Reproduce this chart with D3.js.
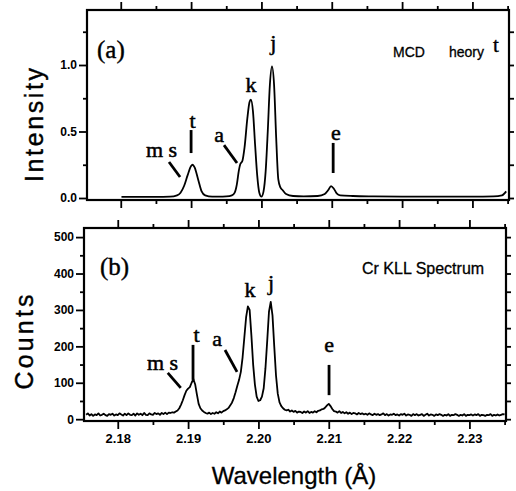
<!DOCTYPE html>
<html lang="en">
<head>
  <meta charset="UTF-8">
  <title>Cr KLL spectrum</title>
  <style>
    html, body {
      margin: 0;
      overflow: hidden;
      width: 100%;
      height: 100%;
      background: #fff;
    }

    svg {
      position: absolute;
      top: 0;
      left: 0;
      background: #fff;
    }

    .tick text {
      font-family: "Liberation Sans", Arial, sans-serif;
      font-weight: bold;
      fill: #000;
    }
  </style>
</head>
<body>
  <svg width="516" height="491"></svg>
</body>
<script src="https://d3js.org/d3.v7.min.js"></script>
<script type="text/javascript">
  // --- data ---
  const xMajorTicks = [2.18, 2.19, 2.20, 2.21, 2.22, 2.23]
  const xMinorTicks = [2.185, 2.195, 2.205, 2.215, 2.225, 2.235]
  const xTickLabels = ['2.18', '2.19', '2.20', '2.21', '2.22', '2.23']

  const intensityTicks = [0, 0.5, 1.0]
  const intensityMinor = [0.25, 0.75, 1.25]
  const intensityRight = [0, 0.25, 0.5, 0.75, 1.0, 1.25]
  const countTicks = [0, 100, 200, 300, 400, 500]
  const countMinor = [50, 150, 250, 350, 450]
  const countRight = [0, 50, 100, 150, 200, 250, 300, 350, 400, 450, 500]

  // (a) MCD theory curve: wavelength (A), intensity
  const theoryWave = [
    2.1801, 2.1850, 2.1870, 2.1880, 2.1885, 2.1890, 2.1895, 2.1900, 2.1902, 2.1905,
    2.1910, 2.1915, 2.1920, 2.1930, 2.1940, 2.1950, 2.1958, 2.1962, 2.1965, 2.1968,
    2.1970, 2.1973, 2.1976, 2.1980, 2.1983, 2.1985, 2.1988, 2.1991, 2.1994, 2.1997,
    2.2000, 2.2003, 2.2006, 2.2009, 2.2012, 2.2015, 2.2018, 2.2021, 2.2024, 2.2027,
    2.2030, 2.2035, 2.2045, 2.2060, 2.2080, 2.2090, 2.2095, 2.2099, 2.2103, 2.2107,
    2.2112, 2.2130, 2.2160, 2.2200, 2.2250, 2.2300, 2.2330, 2.2342, 2.2348
  ]
  const theoryIntensity = [
    0.008, 0.008, 0.010, 0.020, 0.040, 0.090, 0.170, 0.240, 0.250, 0.230,
    0.140, 0.050, 0.020, 0.010, 0.010, 0.012, 0.020, 0.040, 0.100, 0.210,
    0.255, 0.280, 0.380, 0.600, 0.720, 0.740, 0.650, 0.400, 0.170, 0.040,
    0.010, 0.050, 0.200, 0.500, 0.850, 0.990, 0.850, 0.450, 0.140, 0.080,
    0.060, 0.030, 0.015, 0.012, 0.015, 0.030, 0.060, 0.090, 0.070, 0.035,
    0.020, 0.015, 0.012, 0.010, 0.010, 0.010, 0.012, 0.020, 0.050
  ]

  // (b) measured spectrum: sampled every 0.00025 A from 2.1755 A
  const specStart = 2.1755
  const specStep = 0.00025
  const specCounts = [
    12, 16, 10, 14, 9, 13, 11, 16, 10, 12, 15, 11, 9, 14, 12, 15, 10, 13, 11, 16,
    13, 10, 15, 11, 16, 12, 11, 15, 10, 16, 12, 15, 11, 17, 12, 11, 16, 13, 12, 17,
    14, 16, 12, 17, 14, 18, 14, 18, 17, 19, 18, 21, 24, 30, 40, 52, 66, 78, 84, 88,
    100, 110, 96, 68, 42, 30, 24, 20, 17, 15, 18, 14, 17, 15, 19, 16, 21, 18, 22, 24,
    27, 31, 38, 46, 58, 74, 92, 108, 130, 170, 225, 280, 310, 300, 230, 150, 95, 62, 50, 52,
    62, 85, 140, 215, 295, 322, 285, 200, 120, 70, 46, 36, 30, 26, 24, 26, 21, 24, 20, 23,
    18, 21, 20, 17, 21, 18, 22, 17, 20, 18, 22, 19, 23, 24, 27, 28, 32, 38, 42, 36,
    28, 22, 21, 18, 22, 17, 20, 16, 19, 15, 18, 14, 17, 16, 13, 17, 14, 16, 13, 15,
    12, 16, 13, 11, 15, 12, 14, 11, 13, 16, 11, 14, 10, 13, 12, 15, 11, 13, 10, 14,
    12, 15, 10, 13, 12, 9, 14, 11, 14, 10, 12, 14, 9, 12, 15, 10, 13, 12, 9, 13,
    11, 14, 12, 9, 12, 10, 14, 9, 12, 11, 14, 12, 9, 12, 10, 14, 9, 12, 11, 13,
    10, 13, 11, 14, 9, 12, 11, 9, 12, 11, 14, 9, 12, 10, 13, 10, 12, 14, 13
  ]

  // peak labels and pointers, in data units
  const topLabels = [
    { text: 'm s', w: 2.1858, v: 0.308 },
    { text: 't', w: 2.1902, v: 0.526 },
    { text: 'a', w: 2.1940, v: 0.421 },
    { text: 'k', w: 2.1985, v: 0.797 },
    { text: 'j', w: 2.2017, v: 1.113 },
    { text: 'e', w: 2.2106, v: 0.436 }
  ]
  const topPointers = [
    { w1: 2.18686, v1: 0.271, w2: 2.18843, v2: 0.158 },
    { w1: 2.1900, v1: 0.511, w2: 2.1900, v2: 0.338 },
    { w1: 2.19468, v1: 0.398, w2: 2.19653, v2: 0.263 },
    { w1: 2.2102, v1: 0.414, w2: 2.2102, v2: 0.188 }
  ]
  const bottomLabels = [
    { text: 'm s', w: 2.18636, v: 135 },
    { text: 't', w: 2.19119, v: 212 },
    { text: 'a', w: 2.19414, v: 201 },
    { text: 'k', w: 2.19880, v: 335 },
    { text: 'j', w: 2.20179, v: 355 },
    { text: 'e', w: 2.21004, v: 184 }
  ]
  const bottomPointers = [
    { w1: 2.18711, v1: 127, w2: 2.18896, v2: 86 },
    { w1: 2.19070, v1: 204, w2: 2.19070, v2: 108 },
    { w1: 2.19525, v1: 190, w2: 2.19696, v2: 130 },
    { w1: 2.21004, v1: 149, w2: 2.21004, v2: 66 }
  ]

  const svg = d3.select('svg')
  const serif = '"Liberation Serif", "Times New Roman", serif'
  const sans = '"Liberation Sans", Arial, sans-serif'
  const xDomain = [2.1752, 2.2352]

  // --- panel (a) ---
  const xa = d3.scaleLinear().domain(xDomain).range([87, 509])
  const ya = d3.scaleLinear().domain([-0.015, 1.4135]).range([200, 10])

  // --- panel (b) ---
  const xb = d3.scaleLinear().domain(xDomain).range([84, 506])
  const yb = d3.scaleLinear().domain([-5, 525]).range([421, 228])

  const styleAxis = g => {
    g.select('.domain').remove()
    g.selectAll('.tick line').attr('stroke', '#000').attr('stroke-width', 1.8)
  }

  function frame(x, y) {
    svg.append('rect')
      .attr('x', x.range()[0])
      .attr('y', y.range()[1])
      .attr('width', x.range()[1] - x.range()[0])
      .attr('height', y.range()[0] - y.range()[1])
      .attr('fill', 'none')
      .attr('stroke', '#000')
      .attr('stroke-width', 2.2)
  }

  function xAxes(x, y, withLabels) {
    const bottom = y.range()[0]
    const top = y.range()[1]
    svg.append('g').attr('transform', `translate(0,${bottom})`)
      .call(d3.axisBottom(x).tickValues(xMajorTicks).tickSize(8).tickPadding(5)
        .tickFormat((d, i) => withLabels ? xTickLabels[i] : ''))
      .call(styleAxis)
      .selectAll('text').attr('font-size', 13)
    svg.append('g').attr('transform', `translate(0,${bottom})`)
      .call(d3.axisBottom(x).tickValues(xMinorTicks).tickSize(4).tickFormat(''))
      .call(styleAxis)
    svg.append('g').attr('transform', `translate(0,${top})`)
      .call(d3.axisTop(x).tickValues(xMajorTicks).tickSize(8).tickFormat(''))
      .call(styleAxis)
    svg.append('g').attr('transform', `translate(0,${top})`)
      .call(d3.axisTop(x).tickValues(xMinorTicks).tickSize(4).tickFormat(''))
      .call(styleAxis)
  }

  function yAxes(x, y, major, minor, right, fmt) {
    const left = x.range()[0]
    const rightEdge = x.range()[1]
    svg.append('g').attr('transform', `translate(${left},0)`)
      .call(d3.axisLeft(y).tickValues(major).tickSize(8).tickPadding(2).tickFormat(fmt))
      .call(styleAxis)
      .selectAll('text').attr('font-size', 12)
    svg.append('g').attr('transform', `translate(${left},0)`)
      .call(d3.axisLeft(y).tickValues(minor).tickSize(4).tickFormat(''))
      .call(styleAxis)
    svg.append('g').attr('transform', `translate(${rightEdge},0)`)
      .call(d3.axisRight(y).tickValues(right).tickSize(5).tickFormat(''))
      .call(styleAxis)
  }

  function annotate(x, y, labels, pointers) {
    svg.append('g').selectAll('text')
      .data(labels)
      .enter()
      .append('text')
      .attr('x', d => x(d.w))
      .attr('y', d => y(d.v))
      .attr('text-anchor', 'middle')
      .attr('font-family', serif)
      .attr('font-size', 22)
      .attr('stroke', '#000')
      .attr('stroke-width', 0.5)
      .text(d => d.text)
    svg.append('g').selectAll('line')
      .data(pointers)
      .enter()
      .append('line')
      .attr('x1', d => x(d.w1))
      .attr('y1', d => y(d.v1))
      .attr('x2', d => x(d.w2))
      .attr('y2', d => y(d.v2))
      .attr('stroke', '#000')
      .attr('stroke-width', 2.8)
  }

  // panel (a)
  const theory = theoryWave.map((w, i) => [w, theoryIntensity[i]])
  svg.append('path')
    .datum(theory)
    .attr('fill', 'none')
    .attr('stroke', '#000')
    .attr('stroke-width', 1.8)
    .attr('d', d3.line().x(d => xa(d[0])).y(d => ya(d[1])).curve(d3.curveMonotoneX))

  frame(xa, ya)
  xAxes(xa, ya, false)
  yAxes(xa, ya, intensityTicks, intensityMinor, intensityRight, d3.format('.1f'))
  annotate(xa, ya, topLabels, topPointers)

  svg.append('text').attr('x', 97).attr('y', 58)
    .attr('font-family', serif).attr('font-size', 25)
    .attr('stroke', '#000').attr('stroke-width', 0.4).text('(a)')
  svg.append('text').attr('x', 393).attr('y', 57)
    .attr('font-family', sans).attr('font-size', 14)
    .attr('stroke', '#000').attr('stroke-width', 0.3).text('MCD')
  svg.append('text').attr('x', 449).attr('y', 57)
    .attr('font-family', sans).attr('font-size', 14)
    .attr('stroke', '#000').attr('stroke-width', 0.3).text('heory')
  svg.append('text').attr('x', 493).attr('y', 52)
    .attr('font-family', serif).attr('font-size', 21)
    .attr('stroke', '#000').attr('stroke-width', 0.4).text('t')

  // panel (b)
  const spectrum = specCounts.map((c, i) => [specStart + i * specStep, c])
  svg.append('path')
    .datum(spectrum)
    .attr('fill', 'none')
    .attr('stroke', '#000')
    .attr('stroke-width', 1.8)
    .attr('stroke-linejoin', 'round')
    .attr('d', d3.line().x(d => xb(d[0])).y(d => yb(d[1])))

  frame(xb, yb)
  xAxes(xb, yb, true)
  yAxes(xb, yb, countTicks, countMinor, countRight, d3.format('d'))
  annotate(xb, yb, bottomLabels, bottomPointers)

  svg.append('text').attr('x', 100).attr('y', 275)
    .attr('font-family', serif).attr('font-size', 25)
    .attr('stroke', '#000').attr('stroke-width', 0.4).text('(b)')
  svg.append('text').attr('x', 362).attr('y', 274)
    .attr('font-family', sans).attr('font-size', 16)
    .attr('stroke', '#000').attr('stroke-width', 0.3).text('Cr KLL Spectrum')

  // axis titles
  svg.append('text')
    .attr('transform', 'translate(43,125) rotate(-90)')
    .attr('text-anchor', 'middle')
    .attr('font-family', sans)
    .attr('font-size', 25)
    .attr('textLength', 114)
    .attr('lengthAdjust', 'spacing')
    .attr('stroke', '#000')
    .attr('stroke-width', 0.4)
    .text('Intensity')
  svg.append('text')
    .attr('transform', 'translate(33,342) rotate(-90)')
    .attr('text-anchor', 'middle')
    .attr('font-family', sans)
    .attr('font-size', 25)
    .attr('textLength', 95)
    .attr('lengthAdjust', 'spacing')
    .attr('stroke', '#000')
    .attr('stroke-width', 0.4)
    .text('Counts')
  svg.append('text')
    .attr('x', 294)
    .attr('y', 484)
    .attr('text-anchor', 'middle')
    .attr('font-family', sans)
    .attr('font-size', 24)
    .attr('stroke', '#000')
    .attr('stroke-width', 0.3)
    .text('Wavelength (Å)')
</script>
</html>
